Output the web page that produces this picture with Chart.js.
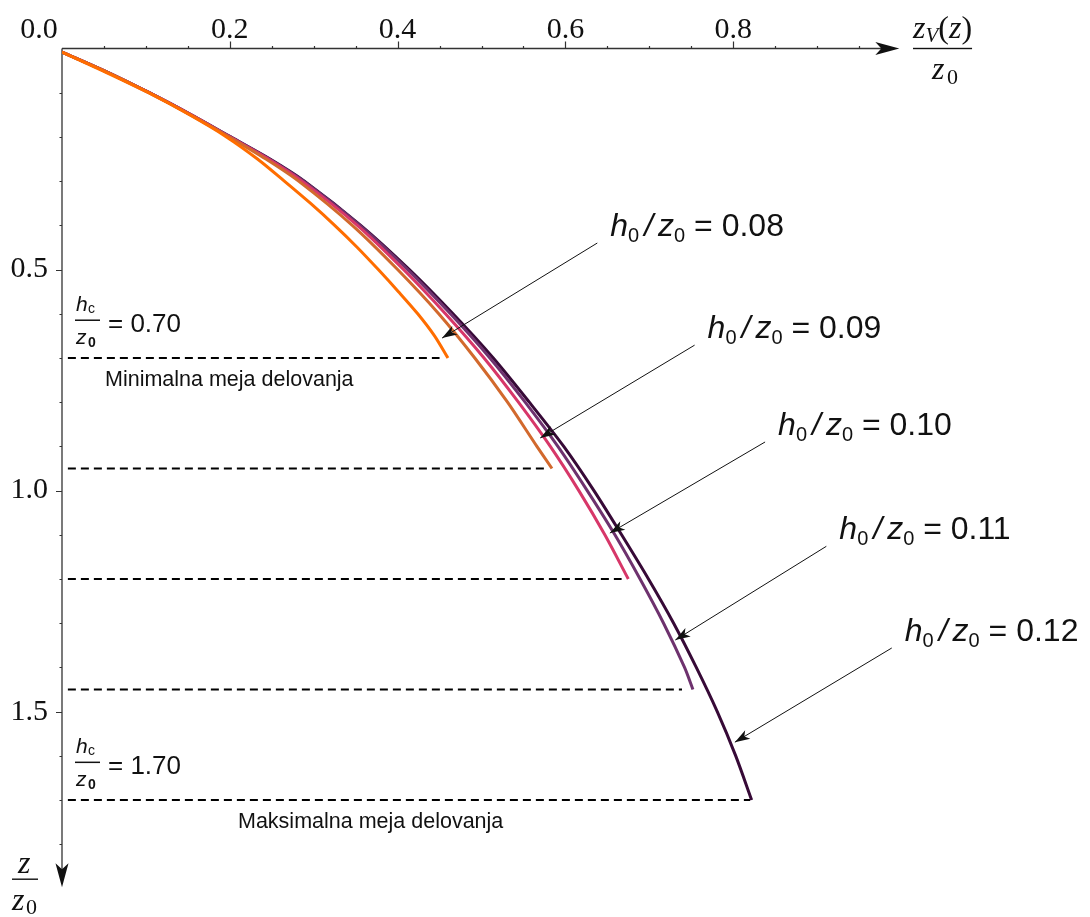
<!DOCTYPE html>
<html>
<head>
<meta charset="utf-8">
<script src="https://cdn.jsdelivr.net/npm/chart.js@4"></script>
<style>
html,body{margin:0;padding:0;background:#fff;}
canvas{display:block;}
</style>
</head>
<body>
<canvas id="chart" width="1090" height="917"></canvas>
<script>
// ---- data ----
const h0Values = ["0.08", "0.09", "0.10", "0.11", "0.12"];

// depth z/z0 and horizontal zV/z0 for each h0/z0 curve
const z08 = [0.008, 0.05, 0.10, 0.15, 0.20, 0.25, 0.30, 0.35, 0.40, 0.45, 0.50, 0.55, 0.60, 0.65, 0.70];
const x08 = [0.000, 0.048, 0.103, 0.152, 0.196, 0.233, 0.265, 0.296, 0.325, 0.352, 0.377, 0.401, 0.424, 0.444, 0.460];

const z09 = [0.008, 0.05, 0.10, 0.15, 0.20, 0.25, 0.30, 0.40, 0.50, 0.60, 0.70, 0.80, 0.90, 0.95];
const x09 = [0.000, 0.050, 0.104, 0.153, 0.199, 0.243, 0.282, 0.346, 0.400, 0.449, 0.492, 0.531, 0.566, 0.584];

const z10 = [0.008, 0.05, 0.10, 0.15, 0.20, 0.25, 0.30, 0.40, 0.50, 0.60, 0.70, 0.80, 0.90, 1.00, 1.10, 1.20];
const x10 = [0.000, 0.050, 0.104, 0.154, 0.200, 0.246, 0.286, 0.352, 0.407, 0.457, 0.503, 0.544, 0.582, 0.616, 0.647, 0.675];

const z11 = [0.008, 0.05, 0.10, 0.15, 0.20, 0.25, 0.30, 0.40, 0.50, 0.60, 0.70, 0.80, 0.90, 1.00, 1.10, 1.20, 1.30, 1.40, 1.45];
const x11 = [0.000, 0.050, 0.104, 0.154, 0.201, 0.247, 0.288, 0.355, 0.412, 0.463, 0.510, 0.552, 0.591, 0.626, 0.659, 0.689, 0.717, 0.742, 0.752];

const z12 = [0.008, 0.05, 0.10, 0.15, 0.20, 0.25, 0.30, 0.40, 0.50, 0.60, 0.70, 0.80, 0.90, 1.00, 1.10, 1.20, 1.30, 1.40, 1.50, 1.60, 1.70];
const x12 = [0.000, 0.050, 0.104, 0.154, 0.201, 0.248, 0.289, 0.356, 0.414, 0.466, 0.514, 0.557, 0.598, 0.634, 0.667, 0.699, 0.729, 0.756, 0.781, 0.803, 0.822];

// limits of action hc/z0 (dashed lines) and where they end
const limitDepths = [0.70, 0.95, 1.20, 1.45, 1.70];
const limitEndX = [0.450, 0.578, 0.667, 0.739, 0.820];

const xTickLabels = [0.2, 0.4, 0.6, 0.8];
const yTickLabels = [0.5, 1.0, 1.5];

// ---- styles / annotation placement ----
const curveColors = ["#ff6d00", "#d2692d", "#d73769", "#6e326e", "#370a37"];
const arrowTails = [[0.638, 0.440], [0.754, 0.671], [0.838, 0.890], [0.911, 1.126], [0.989, 1.356]];
const arrowTips = [[0.453, 0.655], [0.570, 0.881], [0.653, 1.096], [0.731, 1.338], [0.802, 1.569]];
const xAxisEnd = 0.998, yAxisEnd = 1.897;

const SANS = '"Liberation Sans", Arial, sans-serif';
const SERIF = '"Liberation Serif", "Times New Roman", serif';

function near(list, v) { return list.some(t => Math.abs(t - v) < 1e-6); }

let datasets = [];
const curves = [[z08, x08], [z09, x09], [z10, x10], [z11, x11], [z12, x12]];
curves.forEach((c, i) => {
  datasets.push({
    label: "h0/z0 = " + h0Values[i],
    data: c[0].map((z, j) => ({x: c[1][j], y: z})),
    borderColor: curveColors[i],
    borderWidth: 3,
    showLine: true,
    pointRadius: 0,
    tension: 0.3,
    fill: false
  });
});
limitDepths.forEach((d, i) => {
  datasets.push({
    label: "hc/z0 = " + d.toFixed(2),
    data: [{x: 0.007, y: d}, {x: limitEndX[i], y: d}],
    borderColor: "#000",
    borderWidth: 2,
    borderDash: [8, 5],
    showLine: true,
    pointRadius: 0
  });
});

function arrowHead(ctx, tx, ty, fx, fy, len, half, notch) {
  let a = Math.atan2(ty - fy, tx - fx);
  ctx.save();
  ctx.translate(tx, ty);
  ctx.rotate(a);
  ctx.beginPath();
  ctx.moveTo(0, 0);
  ctx.lineTo(-len, -half);
  ctx.lineTo(-len + notch, 0);
  ctx.lineTo(-len, half);
  ctx.closePath();
  ctx.fill();
  ctx.restore();
}

/* axes with arrows and ticks */
const axesPlugin = {
  id: "axes",
  beforeDatasetsDraw(chart) {
    const ctx = chart.ctx, xs = chart.scales.x, ys = chart.scales.y;
    const ox = xs.getPixelForValue(0), oy = ys.getPixelForValue(0);
    const xe = xs.getPixelForValue(xAxisEnd), ye = ys.getPixelForValue(yAxisEnd);
    ctx.save();
    ctx.strokeStyle = "#333";
    ctx.fillStyle = "#111";
    ctx.lineWidth = 1.3;
    ctx.beginPath();
    ctx.moveTo(ox, oy); ctx.lineTo(xe - 12, oy);
    ctx.moveTo(ox, oy); ctx.lineTo(ox, ye - 12);
    ctx.stroke();
    arrowHead(ctx, xe, oy, ox, oy, 24, 6.5, 6);
    arrowHead(ctx, ox, ye, ox, oy, 24, 6.5, 6);

    ctx.lineWidth = 1.2;
    ctx.beginPath();
    xs.ticks.forEach(t => {
      if (t.value <= 0 || t.value > 0.97) return;
      const px = Math.round(xs.getPixelForValue(t.value)) + 0.5;
      const len = near(xTickLabels, t.value) ? 7 : 2.5;
      ctx.moveTo(px, oy); ctx.lineTo(px, oy - len);
    });
    ys.ticks.forEach(t => {
      if (t.value <= 0 || t.value > 1.85) return;
      const py = Math.round(ys.getPixelForValue(t.value)) + 0.5;
      const len = near(yTickLabels, t.value) ? 6 : 2.5;
      ctx.moveTo(ox, py); ctx.lineTo(ox - len, py);
    });
    ctx.stroke();
    ctx.restore();
  },
  afterDraw(chart) {
    const ctx = chart.ctx, xs = chart.scales.x, ys = chart.scales.y;
    const ox = xs.getPixelForValue(0), oy = ys.getPixelForValue(0);
    ctx.save();
    ctx.fillStyle = "#111";
    ctx.textBaseline = "alphabetic";

    // origin label
    ctx.font = "30px " + SERIF;
    ctx.textAlign = "center";
    ctx.fillText("0.0", ox - 23, oy - 11);
    ctx.textAlign = "left";

    // x axis title  zV(z) / z0
    let tx = 913, base = 38;
    ctx.font = "italic 32px " + SERIF; ctx.fillText("z", tx, base); tx += ctx.measureText("z").width;
    ctx.font = "italic 21px " + SERIF; ctx.fillText("V", tx, base + 4); tx += ctx.measureText("V").width;
    ctx.font = "32px " + SERIF; ctx.fillText("(", tx, base); tx += ctx.measureText("(").width;
    ctx.font = "italic 32px " + SERIF; ctx.fillText("z", tx, base); tx += ctx.measureText("z").width;
    ctx.font = "32px " + SERIF; ctx.fillText(")", tx, base); tx += ctx.measureText(")").width;
    ctx.fillRect(913, oy - 0.7, tx - 913, 1.4);
    ctx.font = "italic 32px " + SERIF; ctx.fillText("z", 932, 79);
    ctx.font = "22px " + SERIF; ctx.fillText("0", 947, 84);

    // y axis title  z / z0
    ctx.font = "italic 32px " + SERIF; ctx.fillText("z", 18, 873);
    ctx.fillRect(12, 878.5, 26, 1.4);
    ctx.font = "italic 32px " + SERIF; ctx.fillText("z", 12, 910);
    ctx.font = "22px " + SERIF; ctx.fillText("0", 26, 914);

    // arrows with h0/z0 labels
    ctx.strokeStyle = "#111";
    ctx.lineWidth = 1;
    arrowTails.forEach((tl, i) => {
      const ax = xs.getPixelForValue(tl[0]), ay = ys.getPixelForValue(tl[1]);
      const bx = xs.getPixelForValue(arrowTips[i][0]), by = ys.getPixelForValue(arrowTips[i][1]);
      ctx.beginPath(); ctx.moveTo(ax, ay); ctx.lineTo(bx, by); ctx.stroke();
      arrowHead(ctx, bx, by, ax, ay, 15, 5, 4);
      let lx = ax + 13, lb = ay - 7;
      ctx.font = "italic 32px " + SANS; ctx.fillText("h", lx, lb); lx += ctx.measureText("h").width;
      ctx.font = "20px " + SANS; ctx.fillText("0", lx, lb + 6); lx += ctx.measureText("0").width + 5;
      ctx.font = "italic 32px " + SANS; ctx.fillText("/", lx, lb); lx += ctx.measureText("/").width + 5;
      ctx.font = "italic 32px " + SANS; ctx.fillText("z", lx, lb); lx += ctx.measureText("z").width;
      ctx.font = "20px " + SANS; ctx.fillText("0", lx, lb + 6); lx += ctx.measureText("0").width;
      ctx.font = "32px " + SANS; ctx.fillText(" = " + h0Values[i], lx, lb);
    });

    // hc/z0 labels for min and max limit
    [[0, "Minimalna meja delovanja", 105], [4, "Maksimalna meja delovanja", 238]].forEach(([k, txt, tx0]) => {
      const d = limitDepths[k];
      const ly = ys.getPixelForValue(d);
      ctx.font = "italic 21px " + SANS; ctx.fillText("h", 76, ly - 47);
      ctx.font = "14px " + SANS; ctx.fillText("c", 88, ly - 45);
      ctx.fillRect(75, ly - 38.5, 25, 1.5);
      ctx.font = "italic 21px " + SANS; ctx.fillText("z", 76, ly - 14);
      ctx.font = "bold 14px " + SANS; ctx.fillText("0", 88, ly - 11);
      ctx.font = "26px " + SANS; ctx.fillText("= " + d.toFixed(2), 108, ly - 26);
      ctx.font = "21.5px " + SANS; ctx.fillText(txt, tx0, ly + 28);
    });
    ctx.restore();
  }
};

new Chart(document.getElementById("chart"), {
  type: "scatter",
  data: {datasets: datasets},
  options: {
    responsive: false,
    animation: false,
    layout: {padding: {left: 0, top: 0, right: 189, bottom: 28.5}},
    plugins: {legend: {display: false}, tooltip: {enabled: false}},
    scales: {
      x: {
        type: "linear", position: "top", min: 0, max: 1,
        grid: {display: false}, border: {display: false},
        ticks: {
          stepSize: 0.05, autoSkip: false, maxRotation: 0, padding: -8,
          color: "#111", font: {family: SERIF, size: 30},
          callback: v => near(xTickLabels, v) ? v.toFixed(1) : ""
        },
        afterFit: s => { s.height = 48.5; }
      },
      y: {
        type: "linear", reverse: true, min: 0, max: 1.9,
        grid: {display: false}, border: {display: false},
        ticks: {
          stepSize: 0.1, autoSkip: false, padding: 6,
          color: "#111", font: {family: SERIF, size: 30},
          callback: v => near(yTickLabels, v) ? v.toFixed(1) : ""
        },
        afterFit: s => { s.width = 62; }
      }
    }
  },
  plugins: [axesPlugin]
});
</script>
</body>
</html>
